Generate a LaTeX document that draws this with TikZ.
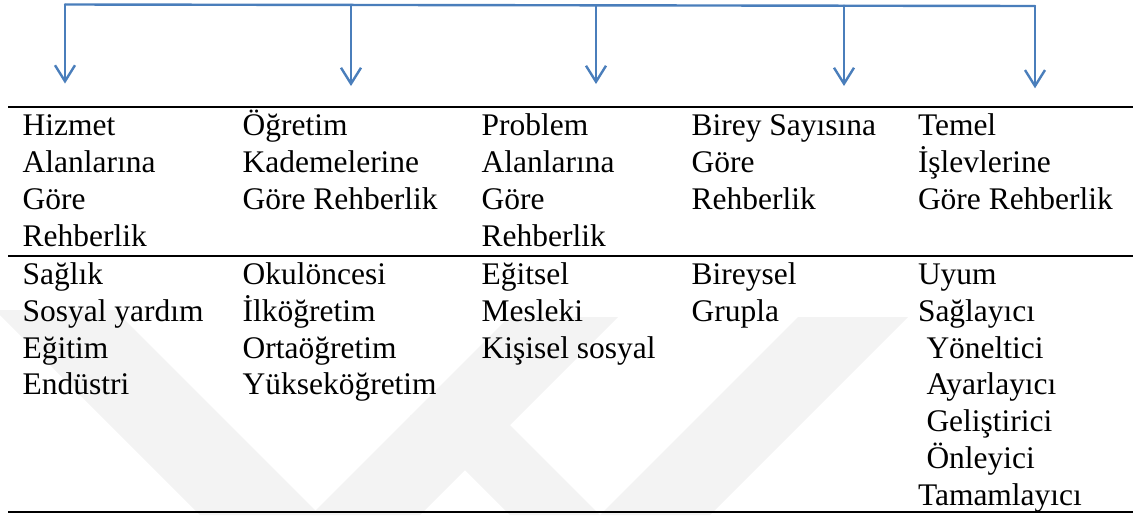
\documentclass[tikz,border=0pt]{standalone}
\usepackage{fontspec}
\setmainfont{Liberation Serif}
\usetikzlibrary{arrows.meta}
\definecolor{arrblue}{RGB}{74,126,187}
\definecolor{wmark}{RGB}{243,243,243}
\begin{document}
\begin{tikzpicture}[x=0.75pt,y=-0.75pt,
  conn/.style={draw=arrblue,line width=1.8pt,line cap=round,line join=round},
  arr/.style={conn,-{Straight Barb[length=12pt,width=15pt,line width=1.8pt]}},
  rulethick/.style={line width=1.8pt},
  rulethin/.style={line width=1.5pt},
  cell/.style={anchor=base west,inner sep=0pt,outer sep=0pt,align=left,
    font={\fontsize{23.6pt}{27.6pt}\selectfont}},
  wm/.style={fill=wmark,draw=none}]
\useasboundingbox (0,0) rectangle (1133,515);
% faint watermark
\begin{scope}
\clip (0,0) rectangle (1133,515);
\fill[wm] (-5,310) -- (115,310) -- (320,515) -- (200,515) -- cycle;
\fill[wm] (311,515) -- (420,515) -- (618,317) -- (509,317) -- cycle;
\fill[wm] (410,415) -- (500,415) -- (600,515) -- (510,515) -- cycle;
\fill[wm] (600,515) -- (710,515) -- (908,317) -- (798,317) -- cycle;
\end{scope}
% connectors
\coordinate (t1) at (65,4.5);
\coordinate (t2) at (351,4.8);
\coordinate (t3) at (596,5.2);
\coordinate (t4) at (844,5.6);
\coordinate (t5) at (1035,6);
\coordinate (b1) at (65,83.5);
\coordinate (b2) at (351,86);
\coordinate (b3) at (596,84);
\coordinate (b4) at (844,86);
\coordinate (b5) at (1035,88.3);
\draw[conn] (t1) -- (t5);
\draw[arr] (t1) -- (b1);
\draw[arr] (t2) -- (b2);
\draw[arr] (t3) -- (b3);
\draw[arr] (t4) -- (b4);
\draw[arr] (t5) -- (b5);
% table rules
\coordinate (r1l) at (8,107);
\coordinate (r1r) at (1133,107);
\coordinate (r2l) at (8,256);
\coordinate (r2r) at (1133,256);
\coordinate (r3l) at (8,511.7);
\coordinate (r3r) at (1133,511.7);
\draw[rulethick] (r1l) -- (r1r);
\draw[rulethin] (r2l) -- (r2r);
\draw[rulethin] (r3l) -- (r3r);
% header cells (anchored at the baseline of their last line)
\node[cell] (h1) at (22.7,246.2) {Hizmet\\Alanlarına\\Göre\\Rehberlik};
\node[cell] (h2) at (242.7,209.4) {Öğretim\\Kademelerine\\Göre Rehberlik};
\node[cell] (h3) at (481.7,246.2) {Problem\\Alanlarına\\Göre\\Rehberlik};
\node[cell] (h4) at (691.7,209.4) {Birey Sayısına\\Göre\\Rehberlik};
\node[cell] (h5) at (918,209.4) {Temel\\İşlevlerine\\Göre Rehberlik};
% body cells
\node[cell] (c1) at (22.7,394.9) {Sağlık\\Sosyal yardım\\Eğitim\\Endüstri};
\node[cell] (c2) at (242.7,394.9) {Okulöncesi\\İlköğretim\\Ortaöğretim\\Yükseköğretim};
\node[cell] (c3) at (481.7,358.1) {Eğitsel\\Mesleki\\Kişisel sosyal};
\node[cell] (c4) at (691.7,321.3) {Bireysel\\Grupla};
\node[cell] (c5) at (918,505.3) {Uyum\\Sağlayıcı\\\hspace*{0.27em}Yöneltici\\\hspace*{0.27em}Ayarlayıcı\\\hspace*{0.27em}Geliştirici\\\hspace*{0.27em}Önleyici\\Tamamlayıcı};
\end{tikzpicture}
\end{document}
